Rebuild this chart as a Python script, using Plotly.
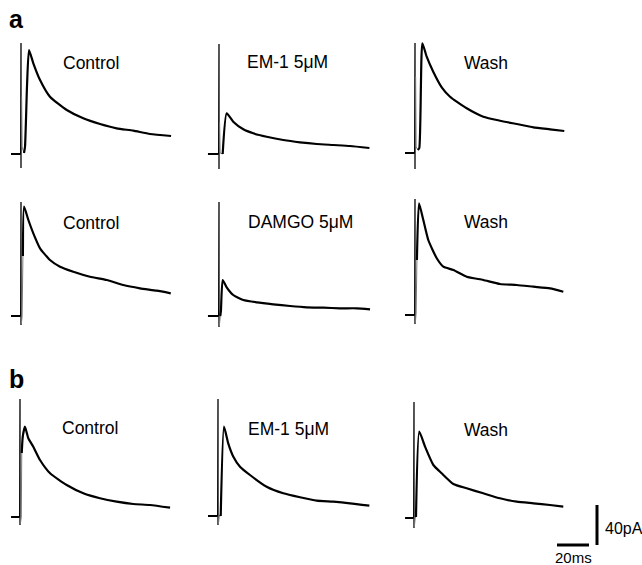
import plotly.graph_objects as go

W, H = 642, 565

# ---------------- data (time in ms from stimulus, current in pA) ----------------
labels = ["Control", "EM-1 5\u03bcM", "Wash",
          "Control", "DAMGO 5\u03bcM", "Wash",
          "Control", "EM-1 5\u03bcM", "Wash"]

base_t = [[-6.25, -0.2], [-6.9, -0.2], [-6.25, -0.2],
          [-6.25, -0.2], [-6.9, -0.2], [-6.25, -0.2],
          [-5.6, -0.2], [-6.25, -0.2], [-5.6, -0.2]]

artifact_top = [111, 110, 110, 114, 114, 116, 118, 117, 116]
artifact_bottom = [-14, -15, -16, -9, -11, -9, -8, -9, -10]

fast_t = [[0.4, 0.7, 1.9], [0.4, 0.7, 2.3], [0.4, 0.7, 1.8],
          [0.2, 0.7, 1.2], [0.2, 0.8], [0.2, 0.7, 1.2],
          [0.2, 0.8, 1.1], [0.2, 0.9, 1.7], [0.2, 0.8, 1.25]]
fast_i = [[57, 7, 1], [31, 1, 0], [76, 6, 3],
          [-8, 0, 60], [-10, 0], [-8, 2, 55],
          [-7, 0, 64], [-8, 1, 0], [-9, 1, 1]]

epsc_t = [
    [1.9, 2.5, 3.8, 5.0, 7.7, 11.9, 18.1, 28.6, 38.9, 49.4, 59.8, 70.2, 80.6, 93.8],
    [2.3, 4.8, 8.9, 15.2, 21.4, 29.8, 40.2, 50.6, 61.1, 71.5, 81.9, 94.0],
    [1.8, 2.7, 4.6, 7.3, 11.4, 16.7, 21.9, 32.3, 42.7, 53.1, 63.6, 74.0, 84.4, 93.3],
    [1.2, 1.9, 4.6, 7.7, 11.9, 18.1, 24.4, 32.7, 43.1, 53.6, 63.9, 74.4, 84.8, 93.6],
    [0.8, 1.2, 2.3, 4.8, 8.9, 15.2, 23.6, 33.9, 44.4, 54.8, 65.2, 75.6, 86.1, 94.4],
    [1.2, 2.5, 5.2, 8.3, 13.6, 17.7, 24.0, 32.3, 42.7, 53.1, 63.6, 74.0, 84.4, 92.7],
    [1.1, 1.7, 3.1, 5.2, 8.3, 12.5, 18.8, 29.2, 39.6, 50.0, 60.4, 70.8, 81.3, 93.8],
    [1.7, 3.75, 6.4, 9.6, 13.75, 20.0, 30.4, 40.8, 51.25, 61.7, 72.1, 82.5, 94.6],
    [1.25, 3.3, 6.9, 12.1, 17.3, 24.6, 32.9, 43.3, 53.75, 64.2, 74.6, 85.0, 93.3],
]
epsc_i = [
    [1, 7, 70, 104, 90.7, 74, 57.3, 44, 35.7, 30, 25.7, 23.3, 20, 18],
    [0, 40.7, 32.3, 24.7, 20.7, 17.3, 14, 11.7, 10, 9, 8, 6],
    [3, 5, 109.7, 96.3, 81.3, 65.7, 56.3, 44.7, 36.3, 32.3, 29, 25.7, 23.7, 22],
    [60, 109.3, 96, 82.7, 67.7, 56, 49.3, 44.3, 39.3, 36, 31, 27.7, 25.3, 22.7],
    [0, 5, 36, 28.7, 21, 16, 13.7, 11.7, 10, 8.7, 8.3, 7.7, 7.7, 6.7],
    [55, 111.7, 95, 75, 56.7, 48.3, 45, 38.3, 35, 31, 30, 28.3, 26.7, 23.3],
    [64, 80, 90.3, 78.7, 70.3, 57, 43.7, 32, 23.7, 18.7, 15.3, 13, 12, 9.3],
    [0, 89.3, 72.7, 59.3, 49.3, 41, 29.3, 22.7, 18.7, 15.3, 14.3, 12.7, 10.3],
    [1, 86.3, 71.3, 53, 44.7, 34, 29.7, 24.7, 19.7, 16.3, 14.7, 13, 11.3],
]

SCALE_MS = 20
SCALE_PA = 40

# ---------------- layout geometry (pixels) ----------------
PX_PER_MS = 1.6
PX_PER_PA = 1.0
T_RANGE = [-8, 100]
I_RANGE = [-20, 125]
stim_x = [21, 219, 415, 21, 219, 415, 20, 218, 414]      # pixel x of t=0
base_y = [154, 154, 153, 316, 316, 315, 517, 516, 518]   # pixel y of 0 pA
label_xy = [(61, 63), (245, 62), (462, 63),
            (61, 223), (246, 222), (462, 222),
            (60, 428), (246, 429), (462, 430)]

FONT = "Arial, Liberation Sans, sans-serif"


def px_x(p):
    return p / W


def px_y(p):
    return 1 - p / H


fig = go.Figure()
layout = dict(width=W, height=H, margin=dict(l=0, r=0, t=0, b=0),
              paper_bgcolor="white", plot_bgcolor="rgba(0,0,0,0)",
              showlegend=False, annotations=[])

for k in range(9):
    n = k + 1
    xa = "x" if n == 1 else f"x{n}"
    ya = "y" if n == 1 else f"y{n}"
    x0 = stim_x[k] + T_RANGE[0] * PX_PER_MS
    x1 = stim_x[k] + T_RANGE[1] * PX_PER_MS
    ytop = base_y[k] - I_RANGE[1] * PX_PER_PA
    ybot = base_y[k] - I_RANGE[0] * PX_PER_PA
    layout["xaxis" if n == 1 else f"xaxis{n}"] = dict(
        domain=[px_x(x0), px_x(x1)], range=T_RANGE, visible=False,
        anchor=ya, fixedrange=True)
    layout["yaxis" if n == 1 else f"yaxis{n}"] = dict(
        domain=[px_y(ybot), px_y(ytop)], range=I_RANGE, visible=False,
        anchor=xa, fixedrange=True)

    # baseline
    fig.add_trace(go.Scatter(x=base_t[k], y=[0] * len(base_t[k]), mode="lines",
                             line=dict(color="black", width=2),
                             xaxis=xa, yaxis=ya, hoverinfo="skip"))
    # stimulus artifact
    fig.add_trace(go.Scatter(x=[base_t[k][-1], 0, 0, 0],
                             y=[0, artifact_top[k], artifact_bottom[k], fast_i[k][0]],
                             mode="lines", line=dict(color="black", width=1.3),
                             xaxis=xa, yaxis=ya, hoverinfo="skip"))
    # fast transient (thin grey)
    fig.add_trace(go.Scatter(x=[0] + fast_t[k], y=[fast_i[k][0]] + fast_i[k],
                             mode="lines", line=dict(color="#777777", width=1),
                             xaxis=xa, yaxis=ya, hoverinfo="skip"))
    # EPSC
    fig.add_trace(go.Scatter(x=epsc_t[k], y=epsc_i[k], mode="lines",
                             line=dict(color="black", width=2.2, shape="spline",
                                       smoothing=0.5),
                             xaxis=xa, yaxis=ya, hoverinfo="skip"))

    lx, ly = label_xy[k]
    layout["annotations"].append(dict(
        text=labels[k], x=px_x(lx), y=px_y(ly), xref="paper", yref="paper",
        xanchor="left", yanchor="middle", showarrow=False,
        font=dict(family=FONT, size=17.5, color="black")))

# scale bar axes
sb_x0, sb_x1, sb_y0, sb_y1 = 550, 600, 500, 550
layout["xaxis10"] = dict(domain=[px_x(sb_x0), px_x(sb_x1)],
                         range=[0, (sb_x1 - sb_x0) / PX_PER_MS],
                         visible=False, anchor="y10", fixedrange=True)
layout["yaxis10"] = dict(domain=[px_y(sb_y1), px_y(sb_y0)],
                         range=[-5, -5 + (sb_y1 - sb_y0) / PX_PER_PA],
                         visible=False, anchor="x10", fixedrange=True)
h_start = (557 - sb_x0) / PX_PER_MS
v_x = (597 - sb_x0) / PX_PER_MS
fig.add_trace(go.Scatter(x=[h_start, h_start + SCALE_MS], y=[0, 0], mode="lines",
                         line=dict(color="black", width=3),
                         xaxis="x10", yaxis="y10", hoverinfo="skip"))
fig.add_trace(go.Scatter(x=[v_x, v_x], y=[0, SCALE_PA], mode="lines",
                         line=dict(color="black", width=3),
                         xaxis="x10", yaxis="y10", hoverinfo="skip"))

layout["annotations"] += [
    dict(text=f"{SCALE_PA}pA", x=px_x(603), y=px_y(528), xref="paper", yref="paper",
         xanchor="left", yanchor="middle", showarrow=False,
         font=dict(family=FONT, size=16, color="black")),
    dict(text=f"{SCALE_MS}ms", x=px_x(573), y=px_y(557), xref="paper", yref="paper",
         xanchor="center", yanchor="middle", showarrow=False,
         font=dict(family=FONT, size=15, color="black")),
    dict(text="<b>a</b>", x=px_x(7), y=px_y(19), xref="paper", yref="paper",
         xanchor="left", yanchor="middle", showarrow=False,
         font=dict(family=FONT, size=25, color="black")),
    dict(text="<b>b</b>", x=px_x(7), y=px_y(379), xref="paper", yref="paper",
         xanchor="left", yanchor="middle", showarrow=False,
         font=dict(family=FONT, size=25, color="black")),
]

fig.update_layout(**layout)
fig.write_html("out.html", config={"displayModeBar": False})
